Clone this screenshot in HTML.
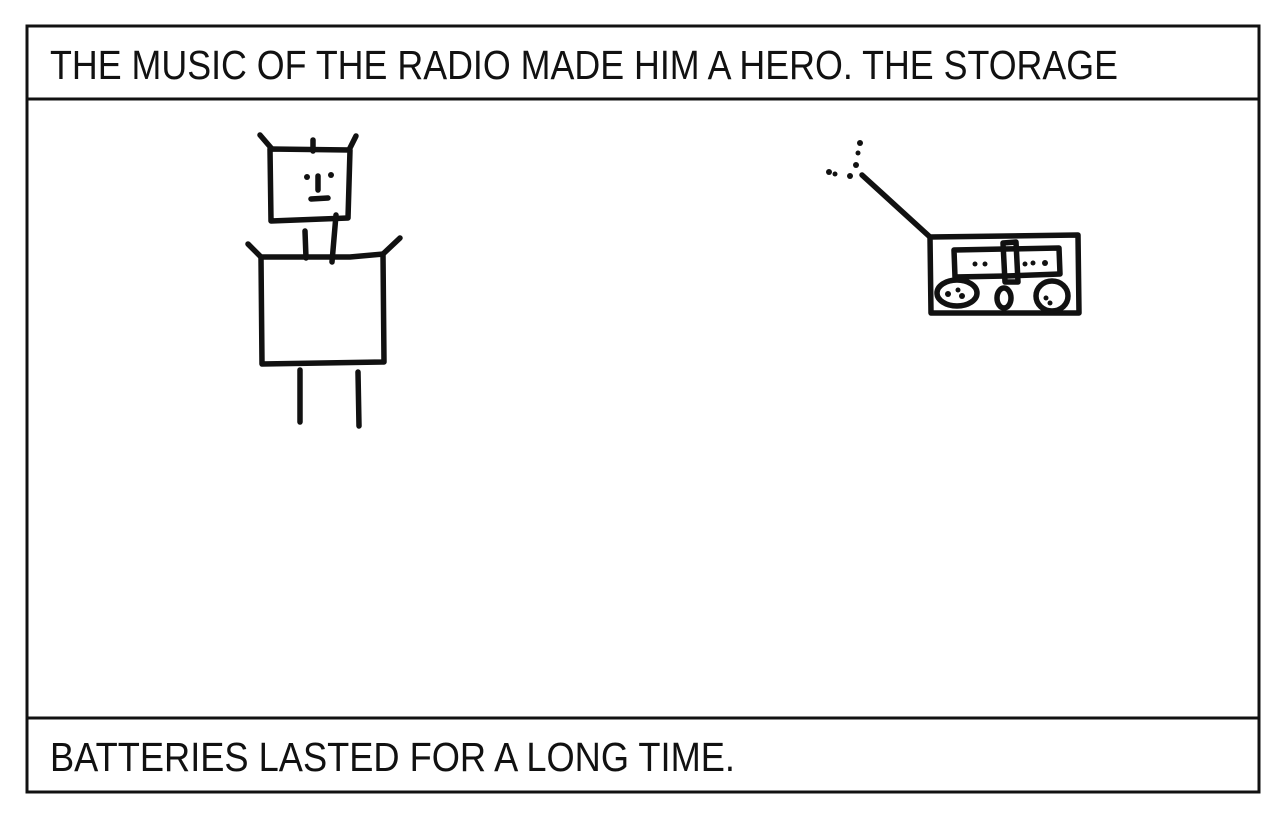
<!DOCTYPE html>
<html><head><meta charset="utf-8"><style>
html,body{margin:0;padding:0;background:#fff;width:1280px;height:817px;overflow:hidden}
svg{display:block}
text{font-family:"Liberation Sans",sans-serif;font-size:41px;fill:#111}
</style></head><body>
<svg width="1280" height="817" viewBox="0 0 1280 817">
<g fill="none" stroke="#111" stroke-width="3">
<rect x="27" y="26" width="1232" height="766"/>
<line x1="27" y1="99" x2="1259" y2="99"/>
<line x1="27" y1="718" x2="1259" y2="718"/>
</g>
<text x="50" y="79" textLength="1068" lengthAdjust="spacingAndGlyphs">THE MUSIC OF THE RADIO MADE HIM A HERO. THE STORAGE</text>
<text x="50" y="771" textLength="685" lengthAdjust="spacingAndGlyphs">BATTERIES LASTED FOR A LONG TIME.</text>
<g fill="none" stroke="#111" stroke-width="5.5" stroke-linecap="round" stroke-linejoin="round">
<path d="M270,149 L350,150 L348,218 L271,221 Z"/>
<path d="M260,135 L272,149 M356,136 L349,150 M313,140 L313,151"/>
<path d="M318,176 L318,190 M311,199 L328,198"/>
<path d="M305,231 L306,258 M336,215 L332,262"/>
<path d="M261,257 L350,257 L383,254 L384,362 L262,364 Z"/>
<path d="M248,244 L261,257 M400,238 L383,254"/>
<path d="M300,370 L300,422 M358,372 L359,426"/>
<path d="M862,175 L930,237"/>
<path d="M930,237 L1078,235 L1079,313 L931,313 Z"/>
<path d="M954,250 L1059,248 L1060,274 L1006,276 L955,277 Z"/>
<path d="M1003,243 L1016,242 L1018,282 L1005,282 Z"/>
<ellipse cx="957" cy="293" rx="20" ry="13"/>
<ellipse cx="1052" cy="296" rx="16" ry="15"/>
<ellipse cx="1004" cy="298" rx="7" ry="10"/>
</g>
<g fill="#111">
<circle cx="307" cy="177" r="3"/><circle cx="331" cy="175" r="3"/>
<circle cx="860" cy="143" r="3"/><circle cx="858" cy="153" r="2.5"/><circle cx="856" cy="165" r="3"/>
<circle cx="829" cy="172" r="3"/><circle cx="835" cy="174" r="2.5"/><circle cx="850" cy="176" r="3"/>
<circle cx="975" cy="264" r="2.5"/><circle cx="985" cy="264" r="2.5"/>
<circle cx="1025" cy="264" r="2.5"/><circle cx="1033" cy="263" r="2.5"/><circle cx="1045" cy="263" r="3"/>
<circle cx="948" cy="294" r="3"/><circle cx="958" cy="290" r="2.5"/><circle cx="962" cy="296" r="3"/>
<circle cx="1046" cy="298" r="2.5"/><circle cx="1050" cy="303" r="2.5"/>
</g>
</svg>
</body></html>
